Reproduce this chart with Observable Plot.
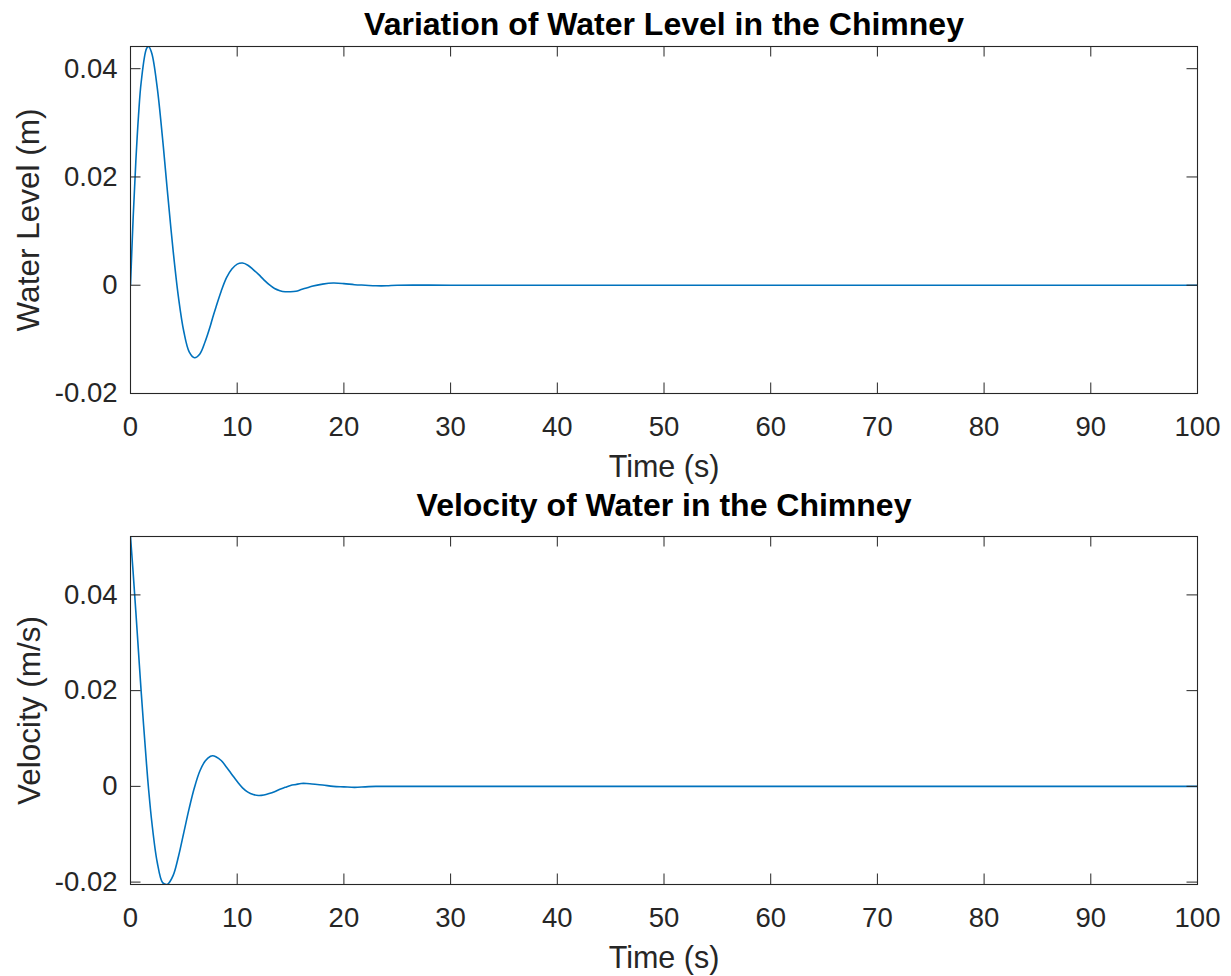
<!DOCTYPE html>
<html>
<head>
<meta charset="utf-8">
<script src="https://cdn.jsdelivr.net/npm/d3@7"></script>
<script src="https://cdn.jsdelivr.net/npm/@observablehq/plot@0.6"></script>
<style>
  html, body { margin: 0; padding: 0; background: #ffffff; }
  #chart { width: 1231px; height: 976px; position: relative; }
  #chart svg { display: block; }
</style>
</head>
<body>
<div id="chart"></div>
<script>
// ---- data ----
const time = [0, 0.25, 0.5, 0.75, 1, 1.5, 1.7, 2, 2.5, 3, 3.35, 3.5, 4, 4.5, 5, 5.5, 6, 6.5, 7, 7.5, 7.7, 8, 8.5, 9, 9.5, 10, 10.5, 11, 11.5, 12, 12.5, 13, 13.5, 14, 14.5, 15, 15.5, 16, 16.5, 17, 18, 19, 20, 21, 22, 23, 24, 25, 30, 40, 50, 60, 70, 80, 90, 100];
const level = [0, 0.0125, 0.0229, 0.0313, 0.0375, 0.0437, 0.0441, 0.0428, 0.0366, 0.0272, 0.0197, 0.0165, 0.0063, -0.0023, -0.0086, -0.0123, -0.0134, -0.0127, -0.0104, -0.0074, -0.0060, -0.0041, -0.0011, 0.0014, 0.0030, 0.0039, 0.0041, 0.0037, 0.0029, 0.0020, 0.0010, 0.0001, -0.0006, -0.0010, -0.0012, -0.0012, -0.0011, -0.0008, -0.0005, -0.0002, 0.0002, 0.0004, 0.0003, 0.0001, 0, -0.0001, -0.0001, 0, 0, 0, 0, 0, 0, 0, 0, 0];
const velocity = [0.0522, 0.0446, 0.0365, 0.0281, 0.0198, 0.0047, -0.0007, -0.0075, -0.0158, -0.0201, -0.0205, -0.0204, -0.0186, -0.0146, -0.0096, -0.0046, -0.0002, 0.0032, 0.0053, 0.0063, 0.0064, 0.0062, 0.0054, 0.0040, 0.0025, 0.0010, -0.0003, -0.0012, -0.0017, -0.0019, -0.0018, -0.0015, -0.0011, -0.0006, -0.0002, 0.0002, 0.0004, 0.0006, 0.0006, 0.0005, 0.0003, 0, -0.0001, -0.0002, -0.0001, 0, 0, 0, 0, 0, 0, 0, 0, 0, 0, 0];
const xTicks = [0, 10, 20, 30, 40, 50, 60, 70, 80, 90, 100];
const yTicks = [-0.02, 0, 0.02, 0.04];
const titles = ["Variation of Water Level in the Chimney", "Velocity of Water in the Chimney"];
const xLabel = "Time (s)";
const yLabels = ["Water Level (m)", "Velocity (m/s)"];
const levelDomain = [-0.02, 0.0441];
const velocityDomain = [-0.0205, 0.0522];

const AX = "#262626";
const FONT = "'Liberation Sans', Arial, Helvetica, sans-serif";

function panel({values, yDomain, title, yLabel, marginTop, marginBottom, titleGap, yLabelX}) {
  const W = 1231, H = 488, mL = 130, mR = 34;
  const iw = W - mL - mR, ih = H - marginTop - marginBottom;
  const tl = 10.5;
  const data = time.map((t, i) => ({t, v: values[i]}));
  const fmt = d => String(d);
  return Plot.plot({
    width: W, height: H,
    marginLeft: mL, marginRight: mR, marginTop, marginBottom,
    style: {fontFamily: FONT, fontSize: "27.5px", color: AX, background: "#ffffff", overflow: "visible"},
    x: {domain: [0, 100], label: null},
    y: {domain: yDomain, label: null},
    marks: [
      Plot.line(data, {x: "t", y: "v", stroke: "#0072BD", strokeWidth: 1.6, curve: "catmull-rom", clip: true}),
      Plot.tickX(xTicks, {x: d => d, insetTop: ih - tl, stroke: AX}),
      Plot.tickX(xTicks, {x: d => d, insetBottom: ih - tl, stroke: AX}),
      Plot.tickY(yTicks, {y: d => d, insetRight: iw - tl, stroke: AX}),
      Plot.tickY(yTicks, {y: d => d, insetLeft: iw - tl, stroke: AX}),
      Plot.frame({stroke: AX, strokeWidth: 1.1}),
      Plot.axisX(xTicks, {tickSize: 0, tickPadding: 23, label: null, tickFormat: fmt}),
      Plot.axisY(yTicks, {tickSize: 0, tickPadding: 13, label: null, tickFormat: fmt}),
      Plot.text([title], {text: d => d, frameAnchor: "top", dy: -titleGap, lineAnchor: "bottom", fontWeight: "bold", fontSize: 32, fill: "#000000"}),
      Plot.text([xLabel], {text: d => d, frameAnchor: "bottom", dy: 62, lineAnchor: "top", fontSize: 30.5}),
      Plot.text([yLabel], {text: d => d, frameAnchor: "left", textAnchor: "middle", dx: yLabelX - mL, rotate: -90, lineAnchor: "bottom", fontSize: 31.5})
    ]
  });
}

const chart = document.getElementById("chart");
chart.appendChild(panel({values: level, yDomain: levelDomain, title: titles[0], yLabel: yLabels[0], marginTop: 46, marginBottom: 95, titleGap: 12, yLabelX: 38.5}));
chart.appendChild(panel({values: velocity, yDomain: velocityDomain, title: titles[1], yLabel: yLabels[1], marginTop: 48, marginBottom: 92, titleGap: 21, yLabelX: 39.5}));
</script>
</body>
</html>
